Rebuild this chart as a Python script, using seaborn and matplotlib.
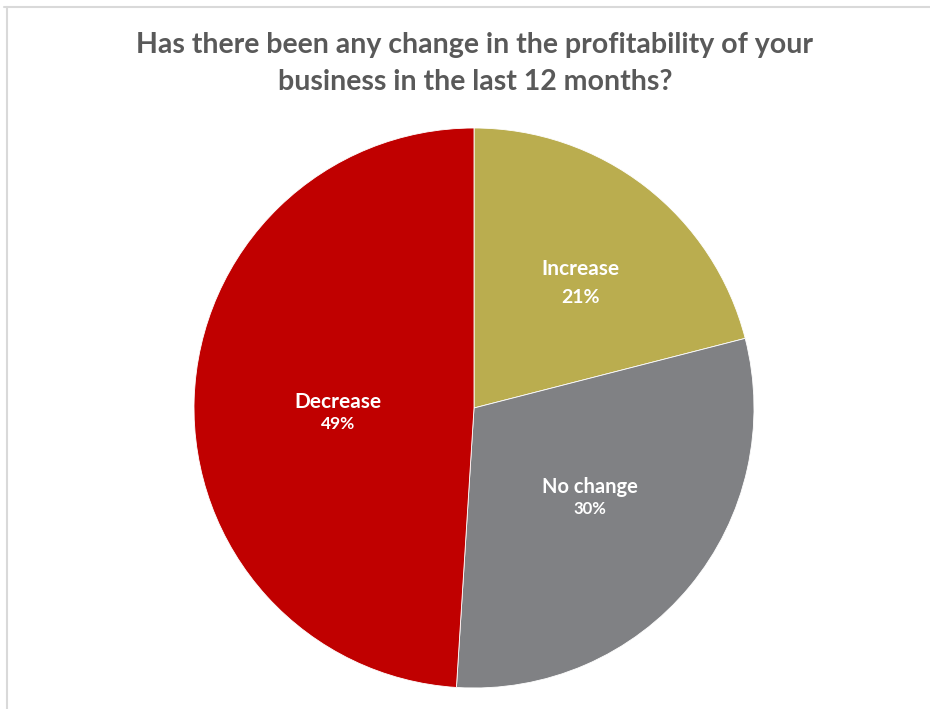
import matplotlib
matplotlib.use("Agg")
import matplotlib.pyplot as plt
from matplotlib.lines import Line2D
import numpy as np
import seaborn as sns

categories = ["Increase", "No change", "Decrease"]
shares = [21, 30, 49]
colors = ["#BAAD4F", "#808184", "#C00000"]
title_lines = ["Has there been any change in the profitability of your",
               "business in the last 12 months?"]

sns.set_theme(style="white")
plt.rcParams["font.family"] = ["Lato", "DejaVu Sans"]

W, H = 930, 709
fig = plt.figure(figsize=(W / 100, H / 100), dpi=100)
fig.patch.set_facecolor("white")

cx, cy, R = 474, 408, 280
ax = fig.add_axes([(cx - R) / W, (H - cy - R) / H, 2 * R / W, 2 * R / H])
wedges, _ = ax.pie(shares, colors=colors, startangle=90, counterclock=False,
                   radius=1.0, wedgeprops=dict(edgecolor="white", linewidth=0.6))
ax.set_xlim(-1, 1)
ax.set_ylim(-1, 1)
ax.set_aspect("equal")
ax.axis("off")

# label anchor distance along each slice's mid-angle, text offsets and sizes
label_r = {"Increase": 0.62, "No change": 0.538, "Decrease": 0.486}
name_dy = {"Increase": 0.006, "No change": 0.061, "Decrease": 0.006}
pct_dy = {"Increase": -0.094, "No change": -0.018, "Decrease": -0.072}
name_size = {"Increase": 15, "No change": 14.5, "Decrease": 15}
pct_size = {"Increase": 14, "No change": 12, "Decrease": 12.5}
for w, name, val in zip(wedges, categories, shares):
    mid = np.deg2rad((w.theta1 + w.theta2) / 2)
    r = label_r[name]
    x, y = r * np.cos(mid), r * np.sin(mid)
    ax.text(x, y + name_dy[name], name, ha="center", va="center", color="white",
            fontsize=name_size[name], fontweight="bold")
    ax.text(x, y + pct_dy[name], f"{val}%", ha="center", va="center", color="white",
            fontsize=pct_size[name], fontweight="bold")

fig.text(474 / W, 1 - 45 / H, title_lines[0], ha="center", va="center",
         fontsize=20.5, fontweight="bold", color="#595959")
fig.text(475 / W, 1 - 82 / H, title_lines[1], ha="center", va="center",
         fontsize=20.5, fontweight="bold", color="#595959")

# chart-area frame (top and left edges)
fig.add_artist(Line2D([4 / W, 1], [1 - 6.5 / H, 1 - 6.5 / H], color="#D9D9D9",
                      linewidth=1.5, transform=fig.transFigure))
fig.add_artist(Line2D([6.5 / W, 6.5 / W], [0, 1 - 6.5 / H], color="#D9D9D9",
                      linewidth=1.5, transform=fig.transFigure))

fig.savefig("out.png", dpi=100, facecolor="white")
